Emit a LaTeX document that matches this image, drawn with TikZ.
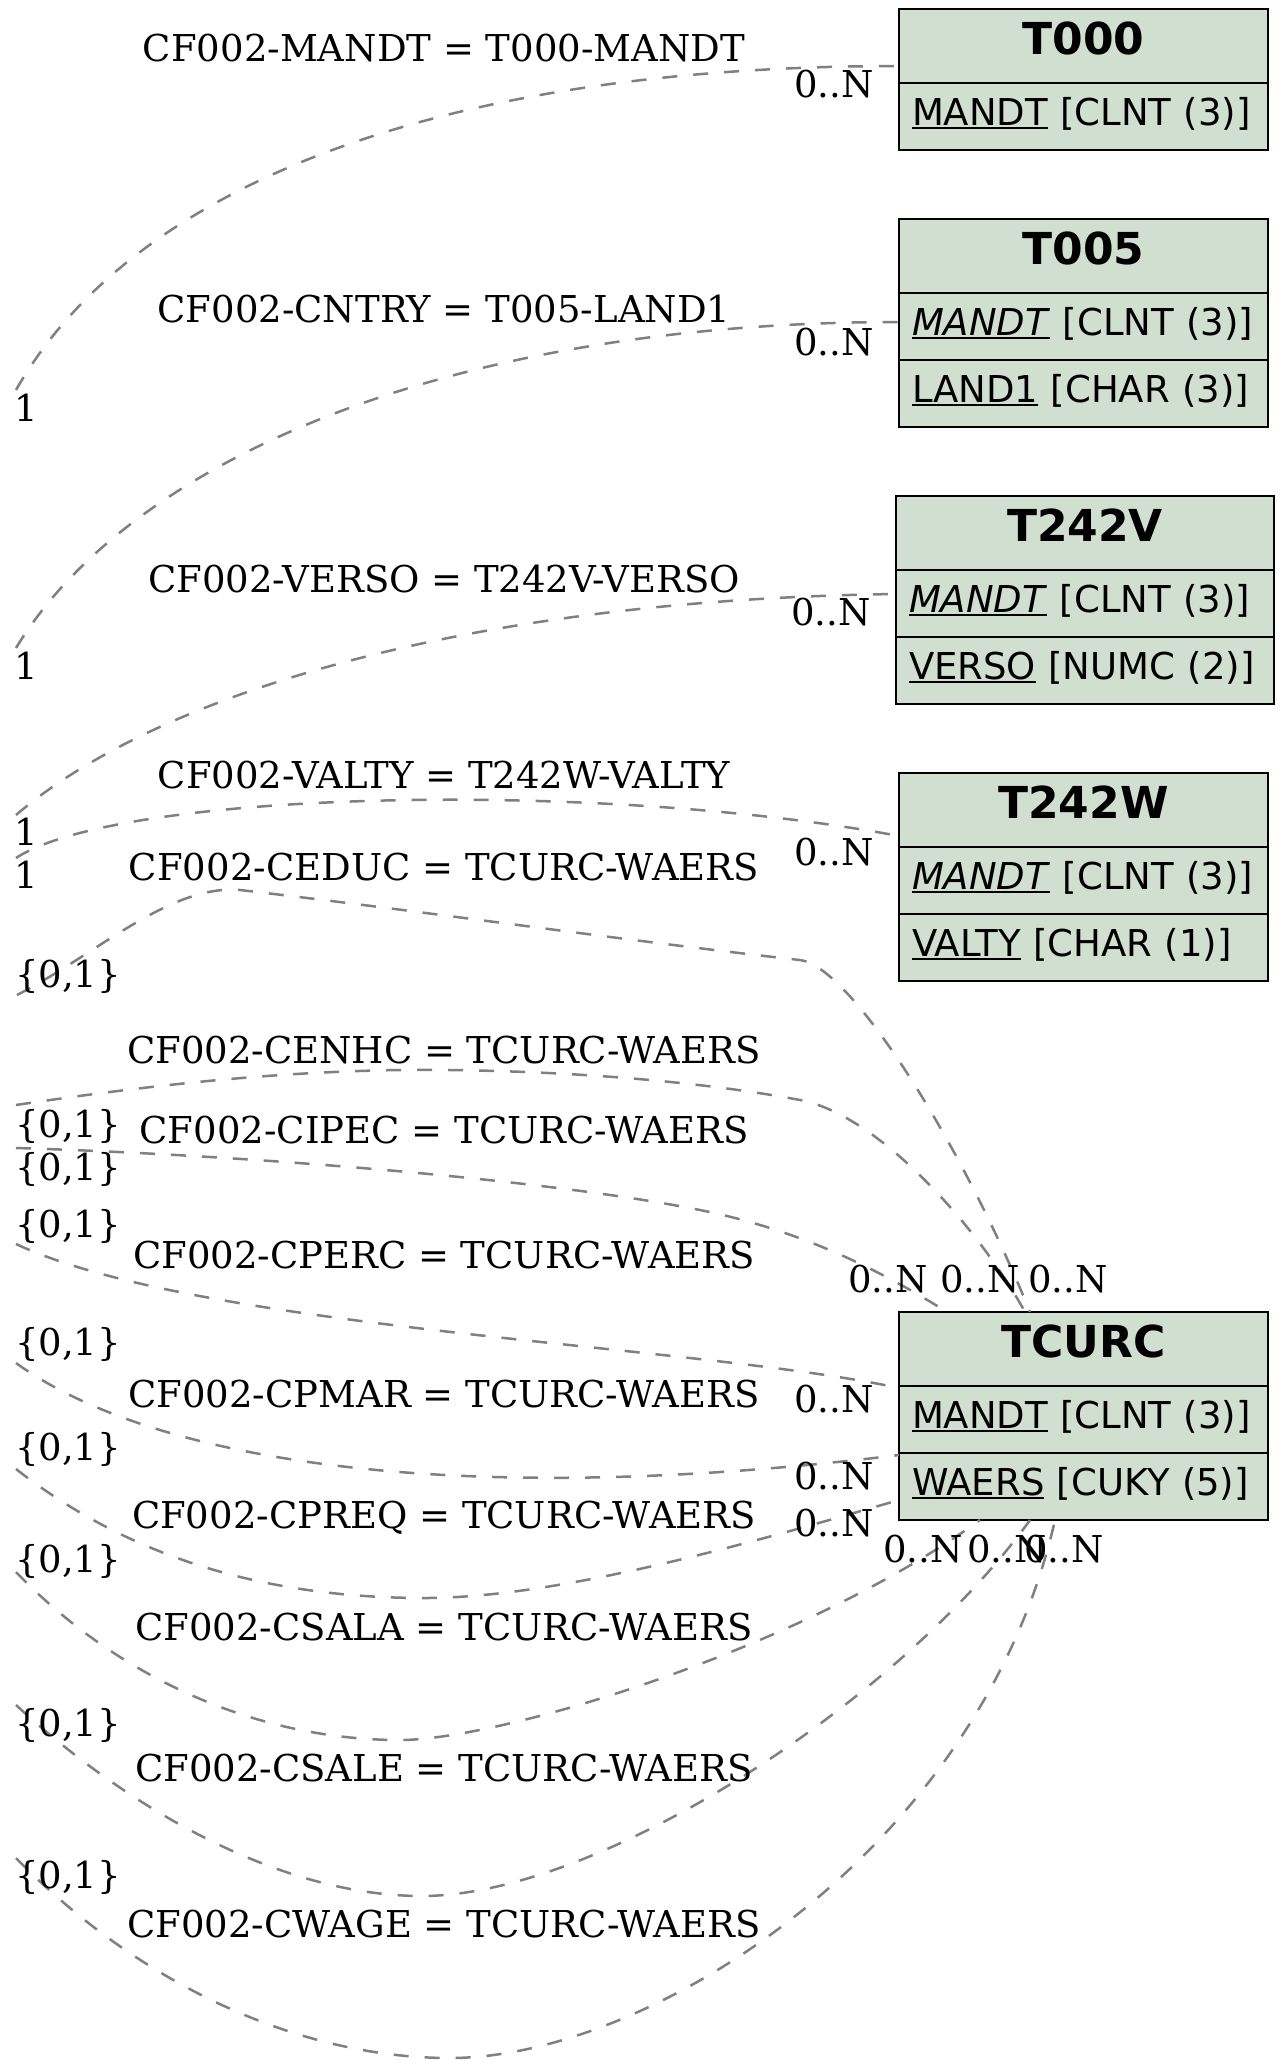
\documentclass[tikz,border=0pt]{standalone}
\usepackage{fontspec}
\setmainfont{DejaVu Serif}
\newfontfamily\tabfont{DejaVu Sans}
\usetikzlibrary{positioning}

\definecolor{tabfill}{RGB}{208,223,208}
\definecolor{relgray}{RGB}{128,128,128}

\newcommand\keyul[1]{\setbox0=\hbox{#1}\rlap{\rule[-3.7pt]{\wd0}{2pt}}\box0\relax}
\newcommand\keyfld[2]{\mbox{\keyul{#1} [#2]}}

\tikzset{
  tabcell/.style={draw=black, line width=2.5pt, fill=tabfill, outer sep=0pt,
    inner ysep=0pt, text height=30pt, text depth=13pt},
  tabhead/.style={tabcell, minimum width=#1, minimum height=74pt,
    font=\tabfont\bfseries\fontsize{44}{52}\selectfont},
  tabrow/.style={tabcell, text width=#1, minimum height=67pt, inner xsep=13pt,
    align=left, font=\tabfont\fontsize{37}{45}\selectfont},
  relline/.style={draw=relgray, line width=2.5pt, dash pattern=on 15pt off 16pt},
  rellabel/.style={anchor=base, inner sep=0pt, font=\fontsize{37}{44}\selectfont},
  card/.style={rellabel}
}

\begin{document}
\begin{tikzpicture}[x=1pt,y=-1pt]
\useasboundingbox (0,0) rectangle (1280,2062);

\node[tabhead=369pt, anchor=north west] (t000) at (899,9) {T000};
\node[tabrow=343pt, below=0pt of t000] (t000f1) {\keyfld{MANDT}{CLNT (3)}};

\node[tabhead=369pt, anchor=north west] (t005) at (899,219) {T005};
\node[tabrow=343pt, below=0pt of t005] (t005f1) {\keyfld{\textit{MANDT}}{CLNT (3)}};
\node[tabrow=343pt, below=0pt of t005f1] (t005f2) {\keyfld{LAND1}{CHAR (3)}};

\node[tabhead=378pt, anchor=north west] (t242v) at (896,496) {T242V};
\node[tabrow=352pt, below=0pt of t242v] (t242vf1) {\keyfld{\textit{MANDT}}{CLNT (3)}};
\node[tabrow=352pt, below=0pt of t242vf1] (t242vf2) {\keyfld{VERSO}{NUMC (2)}};

\node[tabhead=369pt, anchor=north west] (t242w) at (899,773) {T242W};
\node[tabrow=343pt, below=0pt of t242w] (t242wf1) {\keyfld{\textit{MANDT}}{CLNT (3)}};
\node[tabrow=343pt, below=0pt of t242wf1] (t242wf2) {\keyfld{VALTY}{CHAR (1)}};

\node[tabhead=369pt, anchor=north west] (tcurc) at (899,1312) {TCURC};
\node[tabrow=343pt, below=0pt of tcurc] (tcurcf1) {\keyfld{MANDT}{CLNT (3)}};
\node[tabrow=343pt, below=0pt of tcurcf1] (tcurcf2) {\keyfld{WAERS}{CUKY (5)}};

\coordinate (mandt) at (16,390);
\coordinate (cntry) at (16,648);
\coordinate (verso) at (16,815);
\coordinate (valty) at (16,858);
\coordinate (ceduc) at (17,995);
\coordinate (cenhc) at (16,1105);
\coordinate (cipec) at (16,1148);
\coordinate (cperc) at (16,1244);
\coordinate (cpmar) at (16,1363);
\coordinate (cpreq) at (16,1469);
\coordinate (csala) at (16,1572);
\coordinate (csale) at (16,1705);
\coordinate (cwage) at (16,1858);

\draw[relline] (mandt) .. controls (130,190) and (430,66) .. ([yshift=-20pt]t000.west);
\draw[relline] (cntry) .. controls (130,460) and (450,322) .. ([yshift=4.5pt]t005f1.west);
\draw[relline] (verso) .. controls (150,700) and (450,600) .. ([yshift=9.5pt]t242vf1.west);
\draw[relline] (valty) .. controls (120,790) and (600,780) .. ([yshift=-26pt]t242w.west);
\draw[relline] (ceduc) .. controls (97,954) and (170,884) .. (240,890)
  .. controls (430,912) and (620,940) .. (800,960)
  .. controls (850,966) and (960,1140) .. ([xshift=131pt]tcurc.north west);
\draw[relline] (cenhc) .. controls (150,1085) and (300,1068) .. (450,1070)
  .. controls (600,1072) and (720,1085) .. (800,1100)
  .. controls (880,1115) and (980,1230) .. ([xshift=126pt]tcurc.north west);
\draw[relline] (cipec) .. controls (250,1155) and (550,1180) .. (700,1210)
  .. controls (800,1230) and (880,1270) .. ([xshift=48pt]tcurc.north west);
\draw[relline] (cperc) .. controls (200,1330) and (700,1345) .. ([yshift=31.5pt]tcurcf1.west);
\draw[relline] (cpmar) .. controls (150,1460) and (450,1510) .. ([yshift=31.5pt]tcurcf2.west);
\draw[relline] (cpreq) .. controls (120,1550) and (250,1597) .. (420,1598)
  .. controls (560,1599) and (760,1540) .. ([yshift=-13.5pt]tcurcf2.west);
\draw[relline] (csala) .. controls (120,1680) and (260,1740) .. (400,1740)
  .. controls (500,1740) and (800,1650) .. ([xshift=81pt]tcurcf2.south west);
\draw[relline] (csale) .. controls (130,1810) and (280,1895) .. (420,1896)
  .. controls (600,1897) and (900,1700) .. ([xshift=131pt]tcurcf2.south west);
\draw[relline] (cwage) .. controls (140,1985) and (300,2058) .. (450,2058)
  .. controls (650,2058) and (980,1850) .. ([xshift=156pt]tcurcf2.south west);

\node[rellabel] (lmandt) at (444,61) {CF002-MANDT = T000-MANDT};
\node[rellabel] (lcntry) at (444,322) {CF002-CNTRY = T005-LAND1};
\node[rellabel] (lverso) at (444,592) {CF002-VERSO = T242V-VERSO};
\node[rellabel] (lvalty) at (444,788) {CF002-VALTY = T242W-VALTY};
\node[rellabel] (lceduc) at (444,880) {CF002-CEDUC = TCURC-WAERS};
\node[rellabel] (lcenhc) at (444,1063) {CF002-CENHC = TCURC-WAERS};
\node[rellabel] (lcipec) at (444,1143) {CF002-CIPEC = TCURC-WAERS};
\node[rellabel] (lcperc) at (444,1268) {CF002-CPERC = TCURC-WAERS};
\node[rellabel] (lcpmar) at (444,1407) {CF002-CPMAR = TCURC-WAERS};
\node[rellabel] (lcpreq) at (444,1528) {CF002-CPREQ = TCURC-WAERS};
\node[rellabel] (lcsala) at (444,1640) {CF002-CSALA = TCURC-WAERS};
\node[rellabel] (lcsale) at (444,1781) {CF002-CSALE = TCURC-WAERS};
\node[rellabel] (lcwage) at (444,1937) {CF002-CWAGE = TCURC-WAERS};

\node[card] (cmandt) at (26,421) {1};
\node[card] (ccntry) at (26,679) {1};
\node[card] (cverso) at (26,845) {1};
\node[card] (cvalty) at (26,888) {1};
\node[card] (cceduc) at (68,987) {\{0,1\}};
\node[card] (ccenhc) at (68,1137) {\{0,1\}};
\node[card] (ccipec) at (68,1180) {\{0,1\}};
\node[card] (ccperc) at (68,1237) {\{0,1\}};
\node[card] (ccpmar) at (68,1355) {\{0,1\}};
\node[card] (ccpreq) at (68,1460) {\{0,1\}};
\node[card] (ccsala) at (68,1572) {\{0,1\}};
\node[card] (ccsale) at (68,1736) {\{0,1\}};
\node[card] (ccwage) at (68,1888) {\{0,1\}};

\node[card] (nmandt) at (834,97) {0..N};
\node[card] (ncntry) at (834,355) {0..N};
\node[card] (nverso) at (831,625) {0..N};
\node[card] (nvalty) at (834,865) {0..N};
\node[card] (ncipec) at (888,1292) {0..N};
\node[card] (ncenhc) at (980,1292) {0..N};
\node[card] (nceduc) at (1068,1292) {0..N};
\node[card] (ncperc) at (834,1412) {0..N};
\node[card] (ncpmar) at (834,1489) {0..N};
\node[card] (ncpreq) at (834,1536) {0..N};
\node[card] (ncsala) at (923,1562) {0..N};
\node[card] (ncsale) at (1007,1562) {0..N};
\node[card] (ncwage) at (1064,1562) {0..N};
\end{tikzpicture}
\end{document}
